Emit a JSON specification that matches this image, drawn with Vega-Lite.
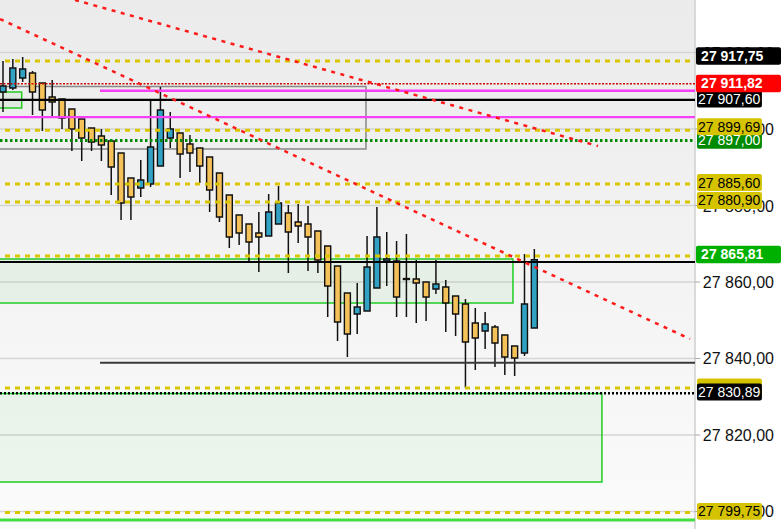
{
  "$schema": "https://vega.github.io/schema/vega-lite/v6.json",
  "width": 781,
  "height": 529,
  "padding": 0,
  "autosize": {"type": "none"},
  "background": "#ffffff",
  "view": {"stroke": null},
  "config": {"font": "Liberation Sans", "scale": {"continuousPadding": 0}, "locale": {"number": {"decimal": ",", "thousands": " ", "grouping": [3], "currency": ["", ""]}}},
  "datasets": {
    "candles": [
      {"i": 0, "o": 27909.67, "h": 27917.78, "l": 27904.44, "c": 27911.24},
      {"i": 1, "o": 27910.72, "h": 27918.30, "l": 27910.20, "c": 27915.95},
      {"i": 2, "o": 27913.33, "h": 27918.82, "l": 27912.29, "c": 27915.69},
      {"i": 3, "o": 27914.64, "h": 27915.16, "l": 27903.66, "c": 27909.67},
      {"i": 4, "o": 27912.03, "h": 27912.03, "l": 27899.48, "c": 27904.97},
      {"i": 5, "o": 27908.37, "h": 27912.81, "l": 27902.88, "c": 27907.06},
      {"i": 6, "o": 27907.84, "h": 27907.84, "l": 27900.00, "c": 27902.88},
      {"i": 7, "o": 27905.23, "h": 27905.23, "l": 27894.25, "c": 27900.00},
      {"i": 8, "o": 27902.61, "h": 27902.61, "l": 27891.63, "c": 27897.65},
      {"i": 9, "o": 27900.26, "h": 27900.26, "l": 27894.25, "c": 27896.60},
      {"i": 10, "o": 27898.17, "h": 27900.00, "l": 27891.63, "c": 27895.82},
      {"i": 11, "o": 27896.86, "h": 27897.39, "l": 27882.75, "c": 27890.07},
      {"i": 12, "o": 27893.73, "h": 27893.73, "l": 27876.21, "c": 27880.65},
      {"i": 13, "o": 27887.19, "h": 27887.19, "l": 27876.21, "c": 27882.22},
      {"i": 14, "o": 27884.58, "h": 27891.90, "l": 27882.22, "c": 27886.67},
      {"i": 15, "o": 27885.62, "h": 27907.84, "l": 27884.84, "c": 27895.29},
      {"i": 16, "o": 27890.33, "h": 27910.98, "l": 27890.33, "c": 27904.97},
      {"i": 17, "o": 27897.65, "h": 27904.44, "l": 27895.03, "c": 27900.00},
      {"i": 18, "o": 27898.95, "h": 27898.95, "l": 27887.19, "c": 27893.46},
      {"i": 19, "o": 27896.08, "h": 27898.43, "l": 27888.76, "c": 27893.73},
      {"i": 20, "o": 27895.03, "h": 27895.03, "l": 27885.88, "c": 27890.33},
      {"i": 21, "o": 27892.68, "h": 27892.68, "l": 27878.30, "c": 27884.05},
      {"i": 22, "o": 27888.50, "h": 27888.50, "l": 27875.69, "c": 27876.99},
      {"i": 23, "o": 27882.75, "h": 27882.75, "l": 27868.89, "c": 27871.76},
      {"i": 24, "o": 27877.52, "h": 27877.52, "l": 27869.67, "c": 27872.81},
      {"i": 25, "o": 27875.16, "h": 27875.16, "l": 27864.97, "c": 27870.46},
      {"i": 26, "o": 27872.81, "h": 27878.30, "l": 27862.61, "c": 27871.76},
      {"i": 27, "o": 27872.03, "h": 27883.01, "l": 27872.03, "c": 27878.30},
      {"i": 28, "o": 27875.16, "h": 27885.10, "l": 27875.16, "c": 27880.65},
      {"i": 29, "o": 27878.04, "h": 27880.13, "l": 27862.35, "c": 27873.07},
      {"i": 30, "o": 27875.69, "h": 27880.39, "l": 27870.20, "c": 27874.64},
      {"i": 31, "o": 27875.16, "h": 27879.87, "l": 27862.88, "c": 27871.76},
      {"i": 32, "o": 27873.33, "h": 27873.33, "l": 27862.35, "c": 27865.75},
      {"i": 33, "o": 27869.41, "h": 27869.41, "l": 27850.85, "c": 27858.95},
      {"i": 34, "o": 27864.18, "h": 27864.18, "l": 27844.58, "c": 27849.54},
      {"i": 35, "o": 27857.12, "h": 27857.12, "l": 27840.39, "c": 27846.41},
      {"i": 36, "o": 27851.63, "h": 27859.74, "l": 27846.41, "c": 27853.46},
      {"i": 37, "o": 27852.42, "h": 27872.03, "l": 27852.42, "c": 27863.92},
      {"i": 38, "o": 27858.43, "h": 27879.61, "l": 27858.43, "c": 27871.76},
      {"i": 39, "o": 27865.49, "h": 27873.07, "l": 27858.95, "c": 27866.01},
      {"i": 40, "o": 27865.49, "h": 27870.72, "l": 27850.85, "c": 27856.08},
      {"i": 41, "o": 27860.90, "h": 27872.55, "l": 27850.85, "c": 27860.66},
      {"i": 42, "o": 27860.78, "h": 27865.75, "l": 27849.28, "c": 27859.74},
      {"i": 43, "o": 27860.00, "h": 27860.00, "l": 27849.80, "c": 27856.08},
      {"i": 44, "o": 27858.17, "h": 27865.75, "l": 27856.86, "c": 27859.48},
      {"i": 45, "o": 27858.69, "h": 27860.52, "l": 27846.93, "c": 27854.51},
      {"i": 46, "o": 27856.34, "h": 27856.34, "l": 27845.88, "c": 27851.63},
      {"i": 47, "o": 27854.25, "h": 27855.56, "l": 27832.29, "c": 27844.31},
      {"i": 48, "o": 27849.28, "h": 27853.20, "l": 27836.99, "c": 27845.36},
      {"i": 49, "o": 27847.19, "h": 27852.16, "l": 27842.48, "c": 27849.02},
      {"i": 50, "o": 27848.24, "h": 27848.76, "l": 27837.78, "c": 27844.05},
      {"i": 51, "o": 27846.14, "h": 27846.14, "l": 27835.69, "c": 27840.39},
      {"i": 52, "o": 27843.27, "h": 27843.27, "l": 27835.42, "c": 27840.13},
      {"i": 53, "o": 27841.44, "h": 27867.32, "l": 27840.65, "c": 27854.25},
      {"i": 54, "o": 27847.97, "h": 27868.63, "l": 27847.97, "c": 27865.81}
    ],
    "grid": [
      {"g": 27800}, {"g": 27820}, {"g": 27840}, {"g": 27860}, {"g": 27880}, {"g": 27900}, {"g": 27920}
    ],
    "zones": [
      {"t": "box", "x1": -0.6, "x2": 36.89, "top": 27911.11, "bot": 27894.77},
      {"t": "zone", "x1": -0.6, "x2": 1.9, "top": 27909.67, "bot": 27905.49},
      {"t": "zone", "x1": -0.6, "x2": 51.83, "top": 27866.01, "bot": 27854.51},
      {"t": "zone", "x1": -0.6, "x2": 60.87, "top": 27830.85, "bot": 27807.71}
    ],
    "levels": [
      {"t": "target", "p": 27917.75, "s": -0.305, "e": 70.33},
      {"t": "target", "p": 27899.69, "s": -0.305, "e": 70.33},
      {"t": "target", "p": 27885.60, "s": -0.305, "e": 70.33},
      {"t": "target", "p": 27880.90, "s": -0.305, "e": 70.33},
      {"t": "target", "p": 27866.80, "s": -0.305, "e": 70.33},
      {"t": "target", "p": 27832.29, "s": -0.305, "e": 70.33},
      {"t": "target", "p": 27799.75, "s": -0.305, "e": 70.33},
      {"t": "support", "p": 27897.00, "s": -0.305, "e": 70.33},
      {"t": "alert", "p": 27911.82, "s": -0.305, "e": 70.33},
      {"t": "ref", "p": 27907.60, "s": -0.305, "e": 70.33},
      {"t": "ref", "p": 27865.23, "s": -0.305, "e": 70.33},
      {"t": "pivot", "p": 27910.00, "s": 9.86, "e": 70.33},
      {"t": "pivot", "p": 27903.10, "s": -0.305, "e": 70.33},
      {"t": "dark", "p": 27838.90, "s": 9.86, "e": 70.33},
      {"t": "dotted", "p": 27830.89, "s": -0.305, "e": 70.33},
      {"t": "floor", "p": 27797.80, "s": -0.305, "e": 70.33}
    ],
    "trends": [
      {"line": "t1", "i": 7.32, "p": 27933.73},
      {"line": "t1", "i": 60.47, "p": 27895.56},
      {"line": "t2", "i": -0.305, "p": 27928.76},
      {"line": "t2", "i": 69.82, "p": 27845.10}
    ],
    "labels": [
      {"txt": "27 917,75", "c": 27919.08, "kind": "top"},
      {"txt": "27 911,82", "c": 27911.90, "kind": "alert"},
      {"txt": "27 907,60", "c": 27907.84, "kind": "ref"},
      {"txt": "27 897,00", "c": 27897.05, "kind": "support"},
      {"txt": "27 899,69", "c": 27900.60, "kind": "target"},
      {"txt": "27 885,60", "c": 27886.01, "kind": "target"},
      {"txt": "27 880,90", "c": 27881.31, "kind": "target"},
      {"txt": "27 865,81", "c": 27867.19, "kind": "last"},
      {"txt": "", "c": 27832.60, "kind": "target"},
      {"txt": "27 830,89", "c": 27831.24, "kind": "ref"},
      {"txt": "27 799,75", "c": 27800.03, "kind": "target"}
    ]
  },
  "layer": [
    {
      "data": {"values": [{}]},
      "mark": {"type": "rect", "color": {"gradient": "linear", "x1": 0, "y1": 0, "x2": 0, "y2": 1, "stops": [{"offset": 0, "color": "#ebebeb"}, {"offset": 1, "color": "#fbfbfb"}]}},
      "encoding": {
        "x": {"datum": -0.305, "type": "quantitative", "scale": {"domain": [-0.305, 79.07], "nice": false, "zero": false, "padding": 0}, "axis": null},
        "x2": {"datum": 70.33},
        "y": {"datum": 27933.73, "type": "quantitative", "scale": {"domain": [27795.42, 27933.73], "nice": false, "zero": false, "padding": 0}, "axis": null},
        "y2": {"datum": 27795.42}
      }
    },
    {
      "data": {"name": "grid"},
      "mark": {"type": "rule", "color": "#d5d5d5", "strokeWidth": 1.5},
      "encoding": {
        "x": {"datum": -0.305, "type": "quantitative", "scale": {"domain": [-0.305, 79.07], "nice": false, "zero": false, "padding": 0}, "axis": null},
        "x2": {"datum": 70.33},
        "y": {"field": "g", "type": "quantitative", "scale": {"domain": [27795.42, 27933.73], "nice": false, "zero": false, "padding": 0}, "axis": null}
      }
    },
    {
      "data": {"values": [{}]},
      "mark": {"type": "rule", "color": "#d0d0d0", "strokeWidth": 1.5},
      "encoding": {
        "x": {"datum": 70.33, "type": "quantitative", "scale": {"domain": [-0.305, 79.07], "nice": false, "zero": false, "padding": 0}, "axis": null},
        "y": {"datum": 27933.73, "type": "quantitative", "scale": {"domain": [27795.42, 27933.73], "nice": false, "zero": false, "padding": 0}, "axis": null},
        "y2": {"datum": 27795.42}
      }
    },
    {
      "data": {"name": "grid"},
      "mark": {"type": "rule", "color": "#a8a8a8", "strokeWidth": 1},
      "encoding": {
        "x": {"datum": 70.33, "type": "quantitative", "scale": {"domain": [-0.305, 79.07], "nice": false, "zero": false, "padding": 0}, "axis": null},
        "x2": {"datum": 70.86},
        "y": {"field": "g", "type": "quantitative", "scale": {"domain": [27795.42, 27933.73], "nice": false, "zero": false, "padding": 0}, "axis": null}
      }
    },
    {
      "data": {"name": "grid"},
      "mark": {"type": "text", "align": "left", "baseline": "middle", "font": "Liberation Sans", "fontSize": 16, "color": "#111111", "dy": 1},
      "encoding": {
        "x": {"datum": 71.12, "type": "quantitative", "scale": {"domain": [-0.305, 79.07], "nice": false, "zero": false, "padding": 0}, "axis": null},
        "y": {"field": "g", "type": "quantitative", "scale": {"domain": [27795.42, 27933.73], "nice": false, "zero": false, "padding": 0}, "axis": null},
        "text": {"field": "g", "type": "quantitative", "format": ",.2f"}
      }
    },
    {
      "data": {"name": "zones"},
      "transform": [{"filter": "datum.t === 'zone'"}],
      "mark": {"type": "rect", "fill": "#00b400", "fillOpacity": 0.055, "stroke": "#22cc22", "strokeWidth": 1.5},
      "encoding": {
        "x": {"field": "x1", "type": "quantitative", "scale": {"domain": [-0.305, 79.07], "nice": false, "zero": false, "padding": 0}, "axis": null},
        "x2": {"field": "x2"},
        "y": {"field": "top", "type": "quantitative", "scale": {"domain": [27795.42, 27933.73], "nice": false, "zero": false, "padding": 0}, "axis": null},
        "y2": {"field": "bot"}
      }
    },
    {
      "data": {"name": "zones"},
      "transform": [{"filter": "datum.t === 'box'"}],
      "mark": {"type": "rect", "fill": "#ffffff", "fillOpacity": 0, "stroke": "#888888", "strokeWidth": 1.5},
      "encoding": {
        "x": {"field": "x1", "type": "quantitative", "scale": {"domain": [-0.305, 79.07], "nice": false, "zero": false, "padding": 0}, "axis": null},
        "x2": {"field": "x2"},
        "y": {"field": "top", "type": "quantitative", "scale": {"domain": [27795.42, 27933.73], "nice": false, "zero": false, "padding": 0}, "axis": null},
        "y2": {"field": "bot"}
      }
    },
    {
      "data": {"name": "candles"},
      "mark": {"type": "rule", "color": "#111111", "strokeWidth": 1.5},
      "encoding": {
        "x": {"field": "i", "type": "quantitative", "scale": {"domain": [-0.305, 79.07], "nice": false, "zero": false, "padding": 0}, "axis": null},
        "y": {"field": "l", "type": "quantitative", "scale": {"domain": [27795.42, 27933.73], "nice": false, "zero": false, "padding": 0}, "axis": null},
        "y2": {"field": "h"}
      }
    },
    {
      "data": {"name": "candles"},
      "mark": {"type": "bar", "width": 6, "orient": "vertical", "stroke": "#111111", "strokeWidth": 1.4},
      "encoding": {
        "x": {"field": "i", "type": "quantitative", "scale": {"domain": [-0.305, 79.07], "nice": false, "zero": false, "padding": 0}, "axis": null},
        "y": {"field": "o", "type": "quantitative", "scale": {"domain": [27795.42, 27933.73], "nice": false, "zero": false, "padding": 0}, "axis": null},
        "y2": {"field": "c"},
        "color": {"condition": {"test": "datum.c >= datum.o", "value": "#31a2c4"}, "value": "#f5c25a"}
      }
    },
    {
      "data": {"name": "levels"},
      "transform": [{"filter": "datum.t === 'target'"}],
      "mark": {"type": "rule", "color": "#dac600", "strokeWidth": 3, "strokeDash": [5, 5], "strokeDashOffset": -5},
      "encoding": {
        "x": {"field": "s", "type": "quantitative", "scale": {"domain": [-0.305, 79.07], "nice": false, "zero": false, "padding": 0}, "axis": null},
        "x2": {"field": "e"},
        "y": {"field": "p", "type": "quantitative", "scale": {"domain": [27795.42, 27933.73], "nice": false, "zero": false, "padding": 0}, "axis": null}
      }
    },
    {
      "data": {"name": "levels"},
      "transform": [{"filter": "datum.t === 'support'"}],
      "mark": {"type": "rule", "color": "#008a00", "strokeWidth": 3, "strokeDash": [2.5, 2.5]},
      "encoding": {
        "x": {"field": "s", "type": "quantitative", "scale": {"domain": [-0.305, 79.07], "nice": false, "zero": false, "padding": 0}, "axis": null},
        "x2": {"field": "e"},
        "y": {"field": "p", "type": "quantitative", "scale": {"domain": [27795.42, 27933.73], "nice": false, "zero": false, "padding": 0}, "axis": null}
      }
    },
    {
      "data": {"name": "levels"},
      "transform": [{"filter": "datum.t === 'alert'"}],
      "mark": {"type": "rule", "color": "#cc0000", "strokeWidth": 1.5, "strokeDash": [2, 1.5]},
      "encoding": {
        "x": {"field": "s", "type": "quantitative", "scale": {"domain": [-0.305, 79.07], "nice": false, "zero": false, "padding": 0}, "axis": null},
        "x2": {"field": "e"},
        "y": {"field": "p", "type": "quantitative", "scale": {"domain": [27795.42, 27933.73], "nice": false, "zero": false, "padding": 0}, "axis": null}
      }
    },
    {
      "data": {"name": "levels"},
      "transform": [{"filter": "datum.t === 'pivot'"}],
      "mark": {"type": "rule", "color": "#f540f5", "strokeWidth": 2.4},
      "encoding": {
        "x": {"field": "s", "type": "quantitative", "scale": {"domain": [-0.305, 79.07], "nice": false, "zero": false, "padding": 0}, "axis": null},
        "x2": {"field": "e"},
        "y": {"field": "p", "type": "quantitative", "scale": {"domain": [27795.42, 27933.73], "nice": false, "zero": false, "padding": 0}, "axis": null}
      }
    },
    {
      "data": {"name": "levels"},
      "transform": [{"filter": "datum.t === 'ref'"}],
      "mark": {"type": "rule", "color": "#000000", "strokeWidth": 2.2},
      "encoding": {
        "x": {"field": "s", "type": "quantitative", "scale": {"domain": [-0.305, 79.07], "nice": false, "zero": false, "padding": 0}, "axis": null},
        "x2": {"field": "e"},
        "y": {"field": "p", "type": "quantitative", "scale": {"domain": [27795.42, 27933.73], "nice": false, "zero": false, "padding": 0}, "axis": null}
      }
    },
    {
      "data": {"name": "levels"},
      "transform": [{"filter": "datum.t === 'dark'"}],
      "mark": {"type": "rule", "color": "#3a3a3a", "strokeWidth": 2},
      "encoding": {
        "x": {"field": "s", "type": "quantitative", "scale": {"domain": [-0.305, 79.07], "nice": false, "zero": false, "padding": 0}, "axis": null},
        "x2": {"field": "e"},
        "y": {"field": "p", "type": "quantitative", "scale": {"domain": [27795.42, 27933.73], "nice": false, "zero": false, "padding": 0}, "axis": null}
      }
    },
    {
      "data": {"name": "levels"},
      "transform": [{"filter": "datum.t === 'dotted'"}],
      "mark": {"type": "rule", "color": "#000000", "strokeWidth": 2.5, "strokeDash": [2, 2]},
      "encoding": {
        "x": {"field": "s", "type": "quantitative", "scale": {"domain": [-0.305, 79.07], "nice": false, "zero": false, "padding": 0}, "axis": null},
        "x2": {"field": "e"},
        "y": {"field": "p", "type": "quantitative", "scale": {"domain": [27795.42, 27933.73], "nice": false, "zero": false, "padding": 0}, "axis": null}
      }
    },
    {
      "data": {"name": "levels"},
      "transform": [{"filter": "datum.t === 'floor'"}],
      "mark": {"type": "rule", "color": "#44dd44", "strokeWidth": 3},
      "encoding": {
        "x": {"field": "s", "type": "quantitative", "scale": {"domain": [-0.305, 79.07], "nice": false, "zero": false, "padding": 0}, "axis": null},
        "x2": {"field": "e"},
        "y": {"field": "p", "type": "quantitative", "scale": {"domain": [27795.42, 27933.73], "nice": false, "zero": false, "padding": 0}, "axis": null}
      }
    },
    {
      "data": {"name": "trends"},
      "mark": {"type": "line", "color": "#ff1a1a", "strokeWidth": 2.5, "strokeDash": [4, 5.5]},
      "encoding": {
        "x": {"field": "i", "type": "quantitative", "scale": {"domain": [-0.305, 79.07], "nice": false, "zero": false, "padding": 0}, "axis": null},
        "y": {"field": "p", "type": "quantitative", "scale": {"domain": [27795.42, 27933.73], "nice": false, "zero": false, "padding": 0}, "axis": null},
        "detail": {"field": "line", "type": "nominal"}
      }
    },
    {
      "data": {"name": "labels"},
      "transform": [{"filter": "datum.kind !== 'top' && datum.kind !== 'alert' && datum.kind !== 'last'"}, {"calculate": "datum.c + 2.2", "as": "bt"}, {"calculate": "datum.c - 2.2", "as": "bb"}],
      "mark": {"type": "rect", "cornerRadius": 2},
      "encoding": {
        "x": {"datum": 70.53, "type": "quantitative", "scale": {"domain": [-0.305, 79.07], "nice": false, "zero": false, "padding": 0}, "axis": null},
        "x2": {"datum": 77.13},
        "y": {"field": "bt", "type": "quantitative", "scale": {"domain": [27795.42, 27933.73], "nice": false, "zero": false, "padding": 0}, "axis": null},
        "y2": {"field": "bb"},
        "color": {"field": "kind", "type": "nominal", "legend": null, "scale": {"domain": ["target", "ref", "support", "top", "alert", "last"], "range": ["#d6c300", "#000000", "#008a00", "#000000", "#ff0000", "#00b000"]}}
      }
    },
    {
      "data": {"name": "labels"},
      "transform": [{"filter": "datum.kind !== 'top' && datum.kind !== 'alert' && datum.kind !== 'last' && datum.txt !== ''"}],
      "mark": {"type": "text", "align": "left", "baseline": "middle", "font": "Liberation Sans", "fontSize": 14, "dy": 1},
      "encoding": {
        "x": {"datum": 70.63, "type": "quantitative", "scale": {"domain": [-0.305, 79.07], "nice": false, "zero": false, "padding": 0}, "axis": null},
        "y": {"field": "c", "type": "quantitative", "scale": {"domain": [27795.42, 27933.73], "nice": false, "zero": false, "padding": 0}, "axis": null},
        "text": {"field": "txt"},
        "color": {"condition": {"test": "datum.kind === 'target'", "value": "#000000"}, "value": "#ffffff"}
      }
    },
    {
      "data": {"name": "labels"},
      "transform": [{"filter": "datum.kind === 'top' || datum.kind === 'alert' || datum.kind === 'last'"}, {"calculate": "datum.c + 2.3", "as": "bt"}, {"calculate": "datum.c - 2.3", "as": "bb"}],
      "mark": {"type": "rect", "cornerRadius": 2},
      "encoding": {
        "x": {"datum": 70.43, "type": "quantitative", "scale": {"domain": [-0.305, 79.07], "nice": false, "zero": false, "padding": 0}, "axis": null},
        "x2": {"datum": 79.07},
        "y": {"field": "bt", "type": "quantitative", "scale": {"domain": [27795.42, 27933.73], "nice": false, "zero": false, "padding": 0}, "axis": null},
        "y2": {"field": "bb"},
        "color": {"field": "kind", "type": "nominal", "legend": null, "scale": {"domain": ["target", "ref", "support", "top", "alert", "last"], "range": ["#d6c300", "#000000", "#008a00", "#000000", "#ff0000", "#00b000"]}}
      }
    },
    {
      "data": {"name": "labels"},
      "transform": [{"filter": "datum.kind === 'top' || datum.kind === 'alert' || datum.kind === 'last'"}],
      "mark": {"type": "text", "align": "left", "baseline": "middle", "font": "Liberation Sans", "fontSize": 14, "fontWeight": "bold", "dy": 1},
      "encoding": {
        "x": {"datum": 70.95, "type": "quantitative", "scale": {"domain": [-0.305, 79.07], "nice": false, "zero": false, "padding": 0}, "axis": null},
        "y": {"field": "c", "type": "quantitative", "scale": {"domain": [27795.42, 27933.73], "nice": false, "zero": false, "padding": 0}, "axis": null},
        "text": {"field": "txt"},
        "color": {"value": "#ffffff"}
      }
    }
  ]
}
